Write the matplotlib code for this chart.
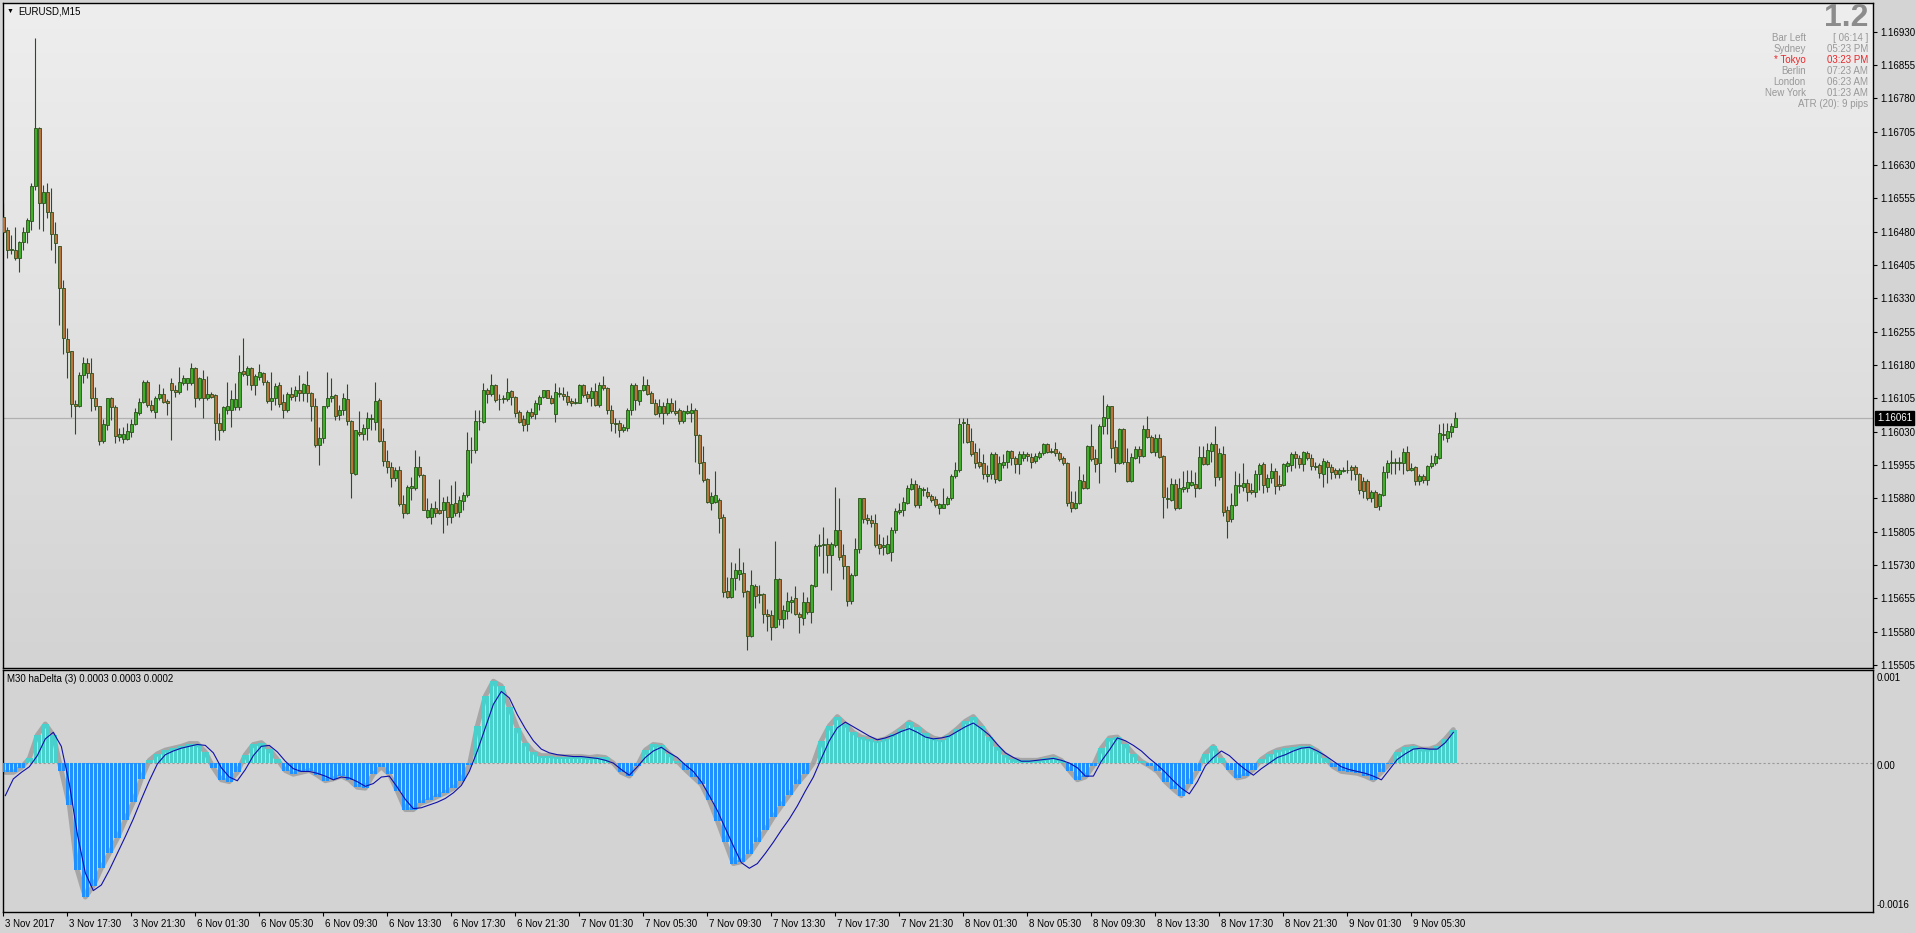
import numpy as np
import matplotlib
matplotlib.use('Agg')
import matplotlib.pyplot as plt
from matplotlib.colors import LinearSegmentedColormap
from matplotlib.transforms import ScaledTranslation, blended_transform_factory

plt.rcParams['font.family'] = ['Liberation Sans', 'DejaVu Sans']

# EURUSD M15, prices in points (1e-5) above BASE
BASE = 1.15
open_pts = [
    1514, 1484, 1440, 1440, 1422, 1458, 1479, 1505, 1582, 1713,
    1545, 1570, 1525, 1476, 1447, 1353, 1238, 1212, 1092, 1088,
    1158, 1184, 1162, 1107, 1088, 1010, 1045, 1105, 1086, 1019,
    1013, 1013, 1030, 1047, 1072, 1096, 1143, 1090, 1075, 1107,
    1116, 1100, 1139, 1124, 1120, 1140, 1140, 1139, 1173, 1107,
    1149, 1107, 1116, 1113, 1050, 1035, 1080, 1080, 1085, 1085,
    1167, 1158, 1173, 1135, 1154, 1162, 1143, 1100, 1107, 1135,
    1098, 1080, 1116, 1110, 1125, 1117, 1135, 1118, 1088, 1000,
    1015, 1088, 1107, 1113, 1068, 1080, 1103, 1055, 935, 1030,
    1025, 1038, 1058, 1053, 1101, 1010, 964, 950, 925, 944,
    868, 848, 904, 903, 951, 933, 839, 838, 859, 854,
    853, 871, 839, 869, 850, 875, 888, 989, 988, 1055,
    1053, 1125, 1116, 1135, 1104, 1103, 1103, 1122, 1109, 1075,
    1058, 1047, 1075, 1070, 1092, 1109, 1124, 1107, 1071, 1118,
    1116, 1111, 1100, 1094, 1095, 1135, 1115, 1105, 1122, 1090,
    1135, 1128, 1080, 1050, 1050, 1034, 1038, 1080, 1135, 1100,
    1124, 1135, 1118, 1095, 1073, 1088, 1073, 1094, 1077, 1079,
    1055, 1073, 1073, 1080, 1023, 963, 923, 870, 873, 877,
    838, 672, 659, 700, 711, 712, 672, 571, 683, 665,
    665, 620, 618, 590, 698, 608, 627, 646, 655, 620,
    612, 648, 625, 683, 773, 775, 777, 753, 775, 810,
    753, 727, 650, 708, 766, 880, 835, 831, 824, 777,
    770, 758, 760, 810, 850, 853, 870, 901, 913, 865,
    900, 895, 885, 878, 858, 858, 867, 882, 930, 944,
    1050, 1047, 1009, 985, 961, 959, 931, 934, 981, 922,
    955, 961, 987, 972, 957, 972, 979, 974, 964, 974,
    982, 1002, 987, 991, 982, 972, 959, 871, 858, 869,
    919, 903, 999, 970, 959, 1042, 1062, 1087, 996, 959,
    1036, 963, 919, 972, 991, 976, 1036, 1019, 985, 1015,
    976, 882, 877, 912, 859, 902, 904, 910, 912, 904,
    974, 957, 987, 1002, 929, 980, 854, 833, 865, 908,
    905, 914, 899, 895, 935, 957, 906, 925, 942, 912,
    910, 953, 955, 980, 972, 957, 983, 970, 953, 955,
    935, 963, 951, 944, 935, 942, 944, 951, 950, 935,
    920, 920, 882, 895, 863, 888, 940, 959, 960, 960,
    959, 985, 945, 950, 920, 930, 921, 953, 959, 972,
    1026, 1017, 1030, 1041,
]
high_pts = [
    1545, 1490, 1473, 1490, 1460, 1490, 1512, 1590, 1915, 1716,
    1585, 1589, 1578, 1503, 1447, 1371, 1263, 1212, 1101, 1165,
    1199, 1195, 1197, 1131, 1088, 1058, 1105, 1109, 1090, 1038,
    1041, 1050, 1058, 1083, 1105, 1146, 1146, 1101, 1110, 1137,
    1129, 1103, 1152, 1135, 1176, 1158, 1152, 1184, 1176, 1154,
    1169, 1155, 1120, 1116, 1073, 1088, 1143, 1124, 1139, 1203,
    1240, 1178, 1176, 1159, 1182, 1165, 1147, 1165, 1139, 1143,
    1116, 1120, 1130, 1133, 1158, 1140, 1167, 1120, 1105, 1041,
    1089, 1165, 1152, 1116, 1090, 1118, 1137, 1056, 1035, 1077,
    1048, 1075, 1071, 1141, 1105, 1038, 988, 963, 951, 953,
    888, 910, 929, 988, 975, 935, 880, 869, 875, 923,
    884, 886, 910, 920, 886, 895, 1030, 1019, 1079, 1079,
    1140, 1128, 1161, 1137, 1116, 1113, 1150, 1125, 1110, 1079,
    1068, 1080, 1083, 1101, 1113, 1125, 1125, 1113, 1140, 1131,
    1130, 1122, 1107, 1107, 1137, 1137, 1122, 1130, 1140, 1143,
    1155, 1130, 1090, 1060, 1056, 1047, 1084, 1139, 1139, 1125,
    1155, 1148, 1122, 1103, 1103, 1098, 1105, 1105, 1101, 1083,
    1080, 1090, 1094, 1083, 1025, 998, 927, 895, 942, 880,
    845, 703, 736, 734, 768, 738, 674, 718, 688, 685,
    668, 631, 629, 785, 702, 640, 670, 660, 682, 625,
    670, 659, 688, 778, 800, 816, 792, 783, 906, 880,
    777, 728, 713, 790, 882, 882, 846, 843, 845, 801,
    794, 798, 815, 858, 869, 884, 910, 925, 921, 910,
    906, 906, 890, 885, 870, 903, 885, 936, 963, 1060,
    1060, 1062, 1038, 1004, 993, 979, 955, 985, 985, 976,
    981, 989, 989, 976, 987, 987, 984, 982, 982, 987,
    1004, 1004, 993, 1006, 987, 976, 961, 897, 897, 954,
    936, 1000, 1047, 991, 1047, 1113, 1092, 1087, 1011, 1039,
    1038, 994, 982, 997, 997, 1045, 1066, 1023, 1024, 1026,
    978, 906, 925, 924, 925, 942, 944, 944, 939, 999,
    997, 1005, 1008, 1043, 993, 998, 863, 892, 942, 937,
    959, 923, 914, 945, 960, 963, 935, 959, 948, 933,
    960, 965, 985, 987, 978, 987, 987, 980, 963, 959,
    970, 966, 957, 948, 948, 951, 966, 955, 955, 938,
    929, 923, 900, 899, 893, 953, 966, 990, 970, 974,
    993, 997, 959, 953, 935, 935, 955, 978, 983, 1048,
    1049, 1049, 1049, 1075,
]
low_pts = [
    1476, 1422, 1431, 1416, 1389, 1439, 1455, 1484, 1575, 1486,
    1482, 1510, 1439, 1409, 1270, 1204, 1150, 1064, 1026, 1086,
    1139, 1150, 1077, 1079, 1000, 1005, 1034, 1056, 1005, 1010,
    1005, 1011, 1019, 1045, 1068, 1094, 1086, 1075, 1060, 1101,
    1094, 1068, 1011, 1109, 1116, 1135, 1124, 1135, 1086, 1101,
    1060, 1101, 1105, 1011, 1011, 1030, 1071, 1041, 1079, 1079,
    1155, 1135, 1125, 1113, 1147, 1135, 1094, 1080, 1090, 1085,
    1062, 1075, 1101, 1100, 1100, 1100, 1098, 1055, 996, 955,
    1004, 1083, 1098, 1056, 1056, 1068, 1045, 880, 933, 1020,
    1011, 1011, 1035, 1035, 1008, 953, 938, 905, 920, 862,
    835, 845, 877, 900, 929, 853, 835, 823, 838, 846,
    803, 820, 824, 840, 839, 854, 884, 960, 983, 1034,
    1049, 1095, 1110, 1098, 1079, 1094, 1100, 1090, 1064, 1049,
    1032, 1032, 1062, 1058, 1079, 1105, 1105, 1092, 1053, 1109,
    1101, 1090, 1088, 1092, 1094, 1109, 1098, 1087, 1087, 1085,
    1125, 1070, 1032, 1027, 1019, 1030, 1032, 1068, 1079, 1090,
    1122, 1113, 1094, 1068, 1064, 1047, 1068, 1073, 1068, 1047,
    1050, 1071, 1053, 963, 936, 918, 870, 854, 870, 803,
    659, 657, 657, 674, 696, 659, 538, 569, 633, 644,
    599, 582, 561, 588, 595, 588, 608, 623, 618, 578,
    595, 621, 599, 680, 750, 712, 712, 673, 771, 742,
    698, 638, 643, 706, 757, 824, 823, 815, 771, 756,
    753, 756, 740, 803, 845, 840, 868, 899, 860, 858,
    886, 882, 873, 861, 845, 858, 865, 876, 927, 940,
    1005, 1004, 976, 949, 948, 924, 916, 924, 914, 919,
    948, 948, 955, 937, 934, 964, 964, 949, 959, 969,
    978, 982, 982, 976, 964, 955, 864, 849, 856, 867,
    901, 901, 964, 939, 914, 1024, 1024, 970, 940, 957,
    957, 916, 918, 969, 959, 974, 1015, 982, 976, 970,
    835, 858, 874, 854, 856, 895, 895, 907, 884, 901,
    955, 955, 963, 908, 921, 840, 790, 826, 863, 893,
    897, 875, 891, 884, 899, 893, 895, 914, 891, 899,
    908, 940, 942, 948, 948, 942, 966, 944, 944, 927,
    905, 915, 923, 927, 927, 940, 938, 921, 921, 891,
    880, 876, 873, 860, 855, 885, 925, 935, 935, 945,
    935, 942, 942, 910, 910, 914, 910, 948, 955, 968,
    1012, 1008, 1019, 1040,
]
close_pts = [
    1480, 1440, 1442, 1422, 1458, 1479, 1506, 1582, 1713, 1545,
    1570, 1525, 1476, 1455, 1353, 1240, 1210, 1092, 1088, 1158,
    1184, 1162, 1107, 1088, 1010, 1047, 1105, 1086, 1020, 1026,
    1026, 1032, 1047, 1074, 1096, 1143, 1090, 1079, 1107, 1116,
    1098, 1094, 1124, 1120, 1143, 1152, 1150, 1173, 1107, 1150,
    1107, 1116, 1109, 1050, 1035, 1085, 1088, 1104, 1104, 1165,
    1160, 1173, 1135, 1155, 1165, 1143, 1100, 1107, 1133, 1092,
    1080, 1116, 1109, 1125, 1117, 1137, 1117, 1088, 1000, 1015,
    1088, 1107, 1111, 1065, 1080, 1105, 1055, 938, 1034, 1025,
    1038, 1062, 1062, 1100, 1010, 964, 950, 925, 945, 868,
    848, 905, 907, 951, 933, 854, 854, 859, 847, 848,
    871, 839, 868, 848, 877, 888, 989, 990, 1055, 1055,
    1125, 1116, 1135, 1101, 1103, 1106, 1119, 1108, 1073, 1053,
    1045, 1075, 1065, 1095, 1109, 1124, 1107, 1095, 1119, 1115,
    1111, 1098, 1094, 1098, 1135, 1113, 1105, 1122, 1090, 1135,
    1128, 1080, 1049, 1047, 1034, 1041, 1080, 1135, 1101, 1124,
    1135, 1116, 1095, 1071, 1088, 1073, 1094, 1077, 1073, 1055,
    1077, 1077, 1079, 1023, 959, 922, 873, 885, 888, 837,
    670, 659, 700, 720, 720, 670, 571, 685, 661, 663,
    620, 616, 590, 698, 608, 629, 650, 651, 621, 614,
    648, 625, 685, 773, 775, 777, 753, 777, 810, 749,
    727, 650, 708, 766, 880, 833, 831, 824, 775, 768,
    775, 777, 809, 852, 854, 873, 903, 913, 865, 903,
    901, 885, 876, 865, 868, 867, 880, 930, 944, 1048,
    1051, 1008, 981, 959, 954, 936, 936, 981, 924, 959,
    961, 987, 972, 957, 981, 981, 976, 963, 976, 982,
    1002, 985, 985, 982, 969, 959, 869, 858, 869, 922,
    903, 999, 969, 957, 1044, 1064, 1087, 994, 959, 1036,
    963, 919, 974, 991, 976, 1036, 1019, 985, 1015, 974,
    884, 879, 912, 859, 903, 906, 916, 916, 904, 974,
    957, 989, 1002, 929, 983, 850, 830, 865, 910, 910,
    915, 895, 895, 935, 955, 910, 927, 942, 908, 908,
    957, 960, 981, 972, 957, 985, 972, 953, 951, 938,
    965, 950, 940, 935, 944, 945, 943, 944, 935, 899,
    897, 882, 895, 861, 890, 940, 960, 963, 963, 961,
    985, 945, 949, 920, 930, 921, 953, 960, 975, 1028,
    1023, 1032, 1043, 1061,
]

# M30 haDelta histogram and signal (1e-5), one value per M30 bar = 2 chart bars
hist_m30 = [
    -10, -10, -5, 5, 30, 42, 30, -8, -45, -115,
    -144, -132, -113, -97, -81, -61, -42, -17, 3, 10,
    14, 16, 18, 21, 21, 12, -5, -18, -20, -10,
    9, 20, 22, 15, 4, -8, -12, -10, -8, -13,
    -19, -17, -14, -18, -26, -27, -12, -4, -12, -30,
    -50, -50, -43, -40, -36, -32, -27, -19, -2, 40,
    72, 88, 83, 60, 38, 22, 12, 8, 8, 7,
    7, 7, 7, 6, 7, 6, 0, -10, -14, -3,
    14, 20, 19, 10, 2, -7, -15, -23, -40, -62,
    -85, -108, -106, -98, -85, -72, -58, -46, -34, -22,
    -12, 0, 24, 40, 50, 42, 33, 28, 26, 24,
    26, 31, 37, 44, 39, 32, 27, 25, 30, 37,
    45, 50, 40, 28, 17, 9, 4, 3, 3, 3,
    5, 7, 3, -8, -18, -15, -3, 16, 27, 28,
    20, 10, 2, -3, -9, -20, -28, -35, -22, -8,
    10, 18, 5, -7, -16, -14, -7, 4, 10, 14,
    16, 17, 18, 18, 13, 5, -4, -9, -10, -11,
    -14, -18, -10, -1, 12, 17, 18, 15, 15, 18,
    26, 36,
]
signal_m30 = [
    -35, -17, -10, -4, 8, 26, 33, 18, -22, -76,
    -118, -137, -131, -115, -97, -79, -60, -39, -19, -1,
    9, 13, 16, 18, 20, 19, 11, -5, -15, -19,
    -7, 8, 18, 19, 12, 2, -6, -9, -9, -11,
    -14, -18, -15, -16, -20, -25, -22, -15, -14, -26,
    -39, -49, -48, -45, -42, -38, -32, -24, -9, 13,
    38, 63, 77, 70, 52, 37, 24, 15, 11, 9,
    8, 7, 7, 6, 5, 3, 0, -7, -13, -4,
    6, 13, 17, 11, 6, -2, -9, -20, -35, -51,
    -70, -89, -107, -113, -108, -97, -85, -72, -60, -46,
    -30, -15, 5, 24, 38, 44, 39, 34, 29, 25,
    27, 30, 34, 37, 33, 28, 26, 27, 29, 34,
    39, 43, 37, 30, 20, 11, 6, 2, 2, 3,
    4, 5, 3, 0, -5, -14, -14, 2, 14, 27,
    24, 19, 13, 5, -2, -10, -19, -27, -33, -20,
    -3, 6, 13, 8, 0, -7, -13, -6, 0, 6,
    9, 13, 16, 17, 13, 8, 2, -4, -7, -9,
    -11, -14, -18, -7, 4, 10, 15, 16, 15, 15,
    22, 33,
]

time_labels = [
    '3 Nov 2017', '3 Nov 17:30', '3 Nov 21:30', '6 Nov 01:30', '6 Nov 05:30',
    '6 Nov 09:30', '6 Nov 13:30', '6 Nov 17:30', '6 Nov 21:30', '7 Nov 01:30',
    '7 Nov 05:30', '7 Nov 09:30', '7 Nov 13:30', '7 Nov 17:30', '7 Nov 21:30',
    '8 Nov 01:30', '8 Nov 05:30', '8 Nov 09:30', '8 Nov 13:30', '8 Nov 17:30',
    '8 Nov 21:30', '9 Nov 01:30', '9 Nov 05:30',
]
bars_per_label = 16
price_ticks = [1.15505, 1.15580, 1.15655, 1.15730, 1.15805, 1.15880, 1.15955,
               1.16030, 1.16105, 1.16180, 1.16255, 1.16330, 1.16405, 1.16480,
               1.16555, 1.16630, 1.16705, 1.16780, 1.16855, 1.16930]
last_price = 1.16061

clock_names = ['Bar Left', 'Sydney', '* Tokyo', 'Berlin', 'London', 'New York']
clock_values = ['[ 06:14 ]', '05:23 PM', '03:23 PM', '07:23 AM', '06:23 AM', '01:23 AM']

assert len(open_pts) == len(high_pts) == len(low_pts) == len(close_pts)
assert len(hist_m30) == len(signal_m30)

W, H = 1916, 933


def fx(px):
    return px / W


def fy(py):
    return 1 - py / H


fig = plt.figure(figsize=(W / 100, H / 100), dpi=100, facecolor='#d4d4d4')

ax = fig.add_axes([fx(3), fy(668), fx(1873) - fx(3), fy(3) - fy(668)])
ax2 = fig.add_axes([fx(3), fy(912), fx(1873) - fx(3), fy(670) - fy(912)])

# background gradient of the price window
grad = LinearSegmentedColormap.from_list('bg', ['#d3d3d3', '#eeeeee'])
ax.imshow(np.linspace(0, 1, 256).reshape(-1, 1), cmap=grad, origin='lower',
          extent=[0, 1, 0, 1], transform=ax.transAxes, aspect='auto', zorder=0)
ax2.set_facecolor('#d3d3d3')

o = BASE + np.array(open_pts) / 1e5
h = BASE + np.array(high_pts) / 1e5
l = BASE + np.array(low_pts) / 1e5
c = BASE + np.array(close_pts) / 1e5
n = len(o)
x = np.arange(n)
up = c >= o

edge = '#2b4f1a'
ax.axhline(last_price, color='#b0b0b0', lw=0.9, zorder=1)
ax.vlines(x, l, h, color=edge, lw=0.8, zorder=2)
ax.bar(x[up], (c - o)[up], bottom=o[up], width=0.72, color='#3fae2a',
       edgecolor=edge, lw=0.6, zorder=3)
ax.bar(x[~up], (c - o)[~up], bottom=o[~up], width=0.72, color='#b8743c',
       edgecolor=edge, lw=0.6, zorder=3)

xmin, xmax = -0.075, 467.4
ax.set_xlim(xmin, xmax)
ax.set_ylim(1.154985, 1.169948)
ax.set_xticks([])
ax.yaxis.tick_right()
ax.set_yticks(price_ticks)
ax.set_yticklabels(['%.5f' % p for p in price_ticks])
ax.tick_params(axis='y', length=3, width=0.8, labelsize=7, pad=2, colors='black')
for s in ax.spines.values():
    s.set_linewidth(1.0)

# current price box
tr = blended_transform_factory(ax.transAxes, ax.transData)
ax.text(1.0, last_price, '1.16061', transform=tr + ScaledTranslation(3 / 72, 0, fig.dpi_scale_trans),
        ha='left', va='center', fontsize=7, color='white', zorder=10, clip_on=False,
        bbox=dict(boxstyle='square,pad=0.2', fc='black', ec='black'))

# indicator window
hist = np.repeat(np.array(hist_m30) / 1e5, 2)[:n]
xm = np.arange(len(hist_m30)) * 2 + 0.5
sig = np.array(signal_m30) / 1e5
ax2.plot(xm, np.array(hist_m30) / 1e5, color='#a6a6a6', lw=3.5, zorder=1,
         solid_capstyle='round')
ax2.axhline(0, color='#9a9a9a', lw=0.8, ls=(0, (2, 2)), zorder=2)
pos = hist >= 0
ax2.bar(x[pos], hist[pos], width=0.62, color='#48d1cc', lw=0, zorder=3)
ax2.bar(x[~pos], hist[~pos], width=0.62, color='#1e90ff', lw=0, zorder=3)
ax2.plot(xm, sig, color='#1010a8', lw=0.8, zorder=4)

ax2.set_xlim(xmin, xmax)
ax2.set_ylim(-0.0016, 0.001)
ax2.set_yticks([])
tick_pos = np.arange(len(time_labels)) * bars_per_label
ax2.set_xticks(tick_pos)
ax2.set_xticklabels(time_labels, ha='left')
ax2.tick_params(axis='x', length=3, width=0.8, labelsize=7, pad=2, colors='black')
for lab in ax2.get_xticklabels():
    lab.set_transform(lab.get_transform() + ScaledTranslation(1 / 72, 0, fig.dpi_scale_trans))
for s in ax2.spines.values():
    s.set_linewidth(1.0)

fig.text(fx(1877), fy(678), '0.001', fontsize=7, va='center', ha='left')
fig.text(fx(1877), fy(766), '0.00', fontsize=7, va='center', ha='left')
fig.text(fx(1877), fy(905), '-0.0016', fontsize=7, va='center', ha='left')

# labels and info block
fig.text(fx(7), fy(11), '\u25bc', fontsize=5, va='center', ha='left')
fig.text(fx(18), fy(11), 'EURUSD,M15', fontsize=7, va='center', ha='left')
fig.text(fx(7), fy(679), 'M30 haDelta (3) 0.0003 0.0003 0.0002', fontsize=7,
         va='center', ha='left')

fig.text(fx(1868), fy(18), '1.2', fontsize=23, fontweight='bold', color='#8c8c8c',
         va='center', ha='right')
row_y = [38, 49, 60, 71, 82, 93]
for name, val, yy in zip(clock_names, clock_values, row_y):
    col = '#e8272a' if name.startswith('*') else '#999999'
    fig.text(fx(1806), fy(yy), name, fontsize=7, color=col, va='center', ha='right')
    fig.text(fx(1868), fy(yy), val, fontsize=7, color=col, va='center', ha='right')
fig.text(fx(1868), fy(104), 'ATR (20): 9 pips', fontsize=7, color='#999999',
         va='center', ha='right')

fig.savefig('out.png', dpi=100, facecolor=fig.get_facecolor())
